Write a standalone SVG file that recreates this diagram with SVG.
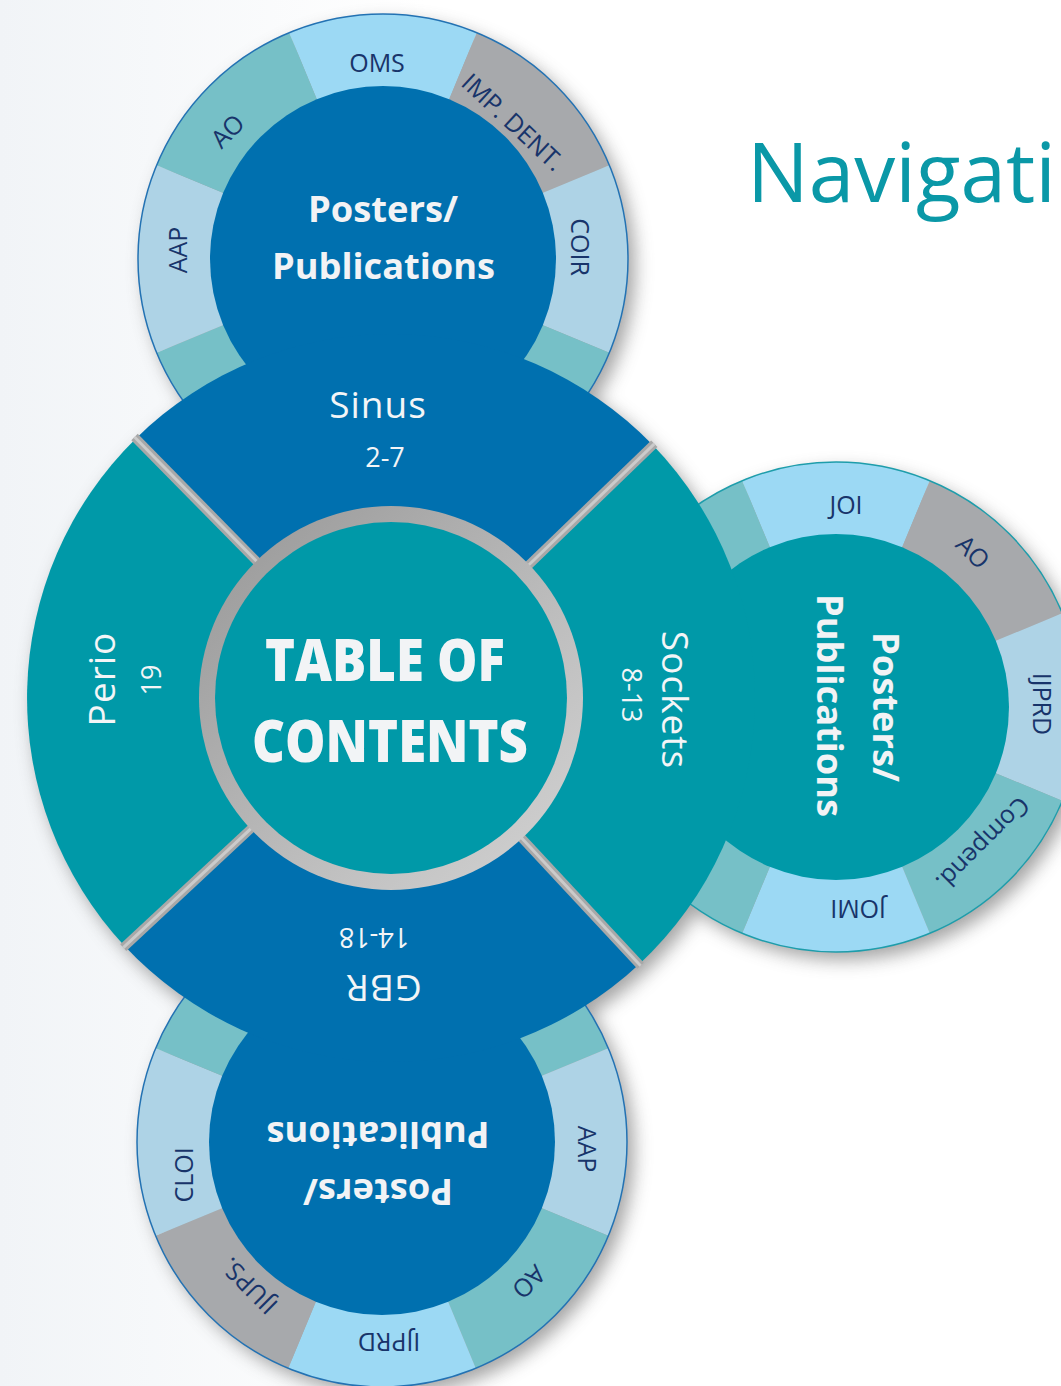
<svg xmlns="http://www.w3.org/2000/svg" width="1061" height="1386" viewBox="0 0 1061 1386">
<defs>
<style>
.sky{fill:#9CD9F4}.gry{fill:#A7A9AC}.lb{fill:#AED3E6}.tl{fill:#76C0C7}
.blue{fill:#0070AF}.teal{fill:#0099A8}
text{font-family:"Open Sans","Noto Sans","Liberation Sans",sans-serif}
.rl{font-size:25px;fill:#18346A;text-anchor:middle}
.pp{font-size:36px;font-weight:700;fill:#F2F3F5;text-anchor:middle}
.sl{font-size:37px;fill:#F3F5F7;text-anchor:middle;letter-spacing:1px}
.nm{font-size:27px;fill:#F3F5F7;text-anchor:middle}
.toc{font-size:58px;font-weight:800;fill:#F2F4F6;text-anchor:middle}
.bdb{fill:none;stroke:#2372B3;stroke-width:1.5}
.bdt{fill:none;stroke:#1E9DAB;stroke-width:1.5}
.dv{stroke:#A8A8A8;stroke-width:9}
.dvh{stroke:#CBCBCB;stroke-width:3}
</style>
<path id="w" d="M0,0 L-93.76,-226.35 A245,245 0 0 1 93.76,-226.35 Z"/>
<filter id="blur" x="-20%" y="-20%" width="140%" height="140%"><feGaussianBlur stdDeviation="9"/></filter>
<linearGradient id="ringG" x1="0" y1="0" x2="1" y2="1"><stop offset="0" stop-color="#969696"/><stop offset="0.6" stop-color="#BDBDBD"/><stop offset="1" stop-color="#D4D4D4"/></linearGradient>
<linearGradient id="bg" x1="0" y1="0" x2="1" y2="0"><stop offset="0" stop-color="#F1F4F7"/><stop offset="0.4" stop-color="#FFFFFF"/></linearGradient>
</defs>

<rect width="1061" height="1386" fill="url(#bg)"/>

<g id="shadows" filter="url(#blur)" fill="#5a5a5a" opacity="0.55">
<circle cx="390" cy="267" r="245"/>
<circle cx="843" cy="715" r="245"/>
<circle cx="389" cy="1150" r="245"/>
<circle cx="397" cy="706" r="364"/>
</g>

<g id="sat-top">
<g transform="translate(383,259)">
<use href="#w" class="sky"/>
<use href="#w" class="gry" transform="rotate(45)"/>
<use href="#w" class="lb" transform="rotate(90)"/>
<use href="#w" class="tl" transform="rotate(135)"/>
<use href="#w" class="tl" transform="rotate(180)"/>
<use href="#w" class="tl" transform="rotate(225)"/>
<use href="#w" class="lb" transform="rotate(270)"/>
<use href="#w" class="tl" transform="rotate(315)"/>
<circle r="245" class="bdb"/>
<circle r="173" class="blue"/>
</g>
<text class="rl" transform="translate(377,63)" y="9">OMS</text>
<text class="rl" transform="translate(513,122) rotate(43)" y="9">IMP. DENT.</text>
<text class="rl" transform="translate(580,247) rotate(90)" y="9">COIR</text>
<text class="rl" transform="translate(177.5,250) rotate(-90)" y="9">AAP</text>
<text class="rl" transform="translate(227.5,131) rotate(-45)" y="9">AO</text>
<text class="pp" transform="translate(383,222)" textLength="150" lengthAdjust="spacingAndGlyphs">Posters/</text>
<text class="pp" transform="translate(383.5,279)" textLength="223" lengthAdjust="spacingAndGlyphs">Publications</text>
</g>

<g id="sat-right">
<g transform="translate(836,707)">
<use href="#w" class="sky"/>
<use href="#w" class="gry" transform="rotate(45)"/>
<use href="#w" class="lb" transform="rotate(90)"/>
<use href="#w" class="tl" transform="rotate(135)"/>
<use href="#w" class="sky" transform="rotate(180)"/>
<use href="#w" class="tl" transform="rotate(225)"/>
<use href="#w" class="tl" transform="rotate(270)"/>
<use href="#w" class="tl" transform="rotate(315)"/>
<circle r="245" class="bdt"/>
<circle r="173" class="teal"/>
</g>
<text class="rl" transform="translate(846,505)" y="9">JOI</text>
<text class="rl" transform="translate(973,552) rotate(45)" y="9">AO</text>
<text class="rl" transform="translate(1042,704) rotate(90)" y="9">IJPRD</text>
<text class="rl" transform="translate(983,844) rotate(135)" y="9">Compend.</text>
<text class="rl" transform="translate(858,909) rotate(180)" y="9">JOMI</text>
<text class="pp" transform="translate(873,707) rotate(90)" textLength="150" lengthAdjust="spacingAndGlyphs">Posters/</text>
<text class="pp" transform="translate(817,705.5) rotate(90)" textLength="223" lengthAdjust="spacingAndGlyphs">Publications</text>
</g>

<g id="sat-bottom">
<g transform="translate(382,1142)">
<use href="#w" class="tl"/>
<use href="#w" class="tl" transform="rotate(45)"/>
<use href="#w" class="lb" transform="rotate(90)"/>
<use href="#w" class="tl" transform="rotate(135)"/>
<use href="#w" class="sky" transform="rotate(180)"/>
<use href="#w" class="gry" transform="rotate(225)"/>
<use href="#w" class="lb" transform="rotate(270)"/>
<use href="#w" class="tl" transform="rotate(315)"/>
<circle r="245" class="bdb"/>
<circle r="173" class="blue"/>
</g>
<text class="rl" transform="translate(587,1149) rotate(90)" y="9">AAP</text>
<text class="rl" transform="translate(529,1282) rotate(135)" y="9">AO</text>
<text class="rl" transform="translate(389,1342) rotate(180)" y="9">IJPRD</text>
<text class="rl" transform="translate(249,1286) rotate(225)" y="9">IJUPS.</text>
<text class="rl" transform="translate(184,1175) rotate(-90)" y="9">CLOI</text>
<text class="pp" transform="translate(378,1179) rotate(180)" textLength="150" lengthAdjust="spacingAndGlyphs">Posters/</text>
<text class="pp" transform="translate(378,1122) rotate(180)" textLength="223" lengthAdjust="spacingAndGlyphs">Publications</text>
</g>

<g id="sectors">
<g id="sector-sinus">
<path class="blue" d="M391,698 L135.9,438.4 A364,364 0 0 1 652.8,445.1 Z"/>
<text class="sl" transform="translate(378,418)">Sinus</text>
<text class="nm" transform="translate(385,467)">2-7</text>
</g>
<g id="sector-sockets">
<path class="teal" d="M391,698 L652.8,445.1 A364,364 0 0 1 639.2,964.2 Z"/>
<text class="sl" transform="translate(662,700) rotate(90)">Sockets</text>
<text class="nm" transform="translate(622,695) rotate(90)">8-13</text>
</g>
<g id="sector-gbr">
<path class="blue" d="M391,698 L639.2,964.2 A364,364 0 0 1 124.8,946.2 Z"/>
<text class="sl" transform="translate(383.5,975) rotate(180)">GBR</text>
<text class="nm" transform="translate(374,928) rotate(180)">14-18</text>
</g>
<g id="sector-perio">
<path class="teal" d="M391,698 L124.8,946.2 A364,364 0 0 1 135.9,438.4 Z"/>
<text class="sl" transform="translate(114.5,679) rotate(-90)">Perio</text>
<text class="nm" transform="translate(161,680) rotate(-90)">19</text>
</g>
</g>

<g id="dividers">
<line class="dv" x1="261.3" y1="566" x2="134.5" y2="437"/>
<line class="dv" x1="524.1" y1="569.5" x2="654.3" y2="443.8"/>
<line class="dv" x1="517.2" y1="833.3" x2="640.6" y2="965.7"/>
<line class="dv" x1="255.7" y1="824.2" x2="123.3" y2="947.6"/>
<line class="dvh" x1="261.3" y1="566" x2="134.5" y2="437"/>
<line class="dvh" x1="524.1" y1="569.5" x2="654.3" y2="443.8"/>
<line class="dvh" x1="517.2" y1="833.3" x2="640.6" y2="965.7"/>
<line class="dvh" x1="255.7" y1="824.2" x2="123.3" y2="947.6"/>
</g>

<g id="toc">
<circle cx="391" cy="698" r="192" fill="url(#ringG)"/>
<circle cx="391" cy="698" r="176" class="teal"/>
<text class="toc" x="385" y="681" textLength="240" lengthAdjust="spacingAndGlyphs">TABLE OF</text>
<text class="toc" x="390" y="762" textLength="276" lengthAdjust="spacingAndGlyphs">CONTENTS</text>
</g>

<g id="title">
<text x="747" y="202" font-size="82" fill="#0A98A7" style="font-family:'Open Sans','Noto Sans',sans-serif">Navigati</text>
</g>
</svg>
